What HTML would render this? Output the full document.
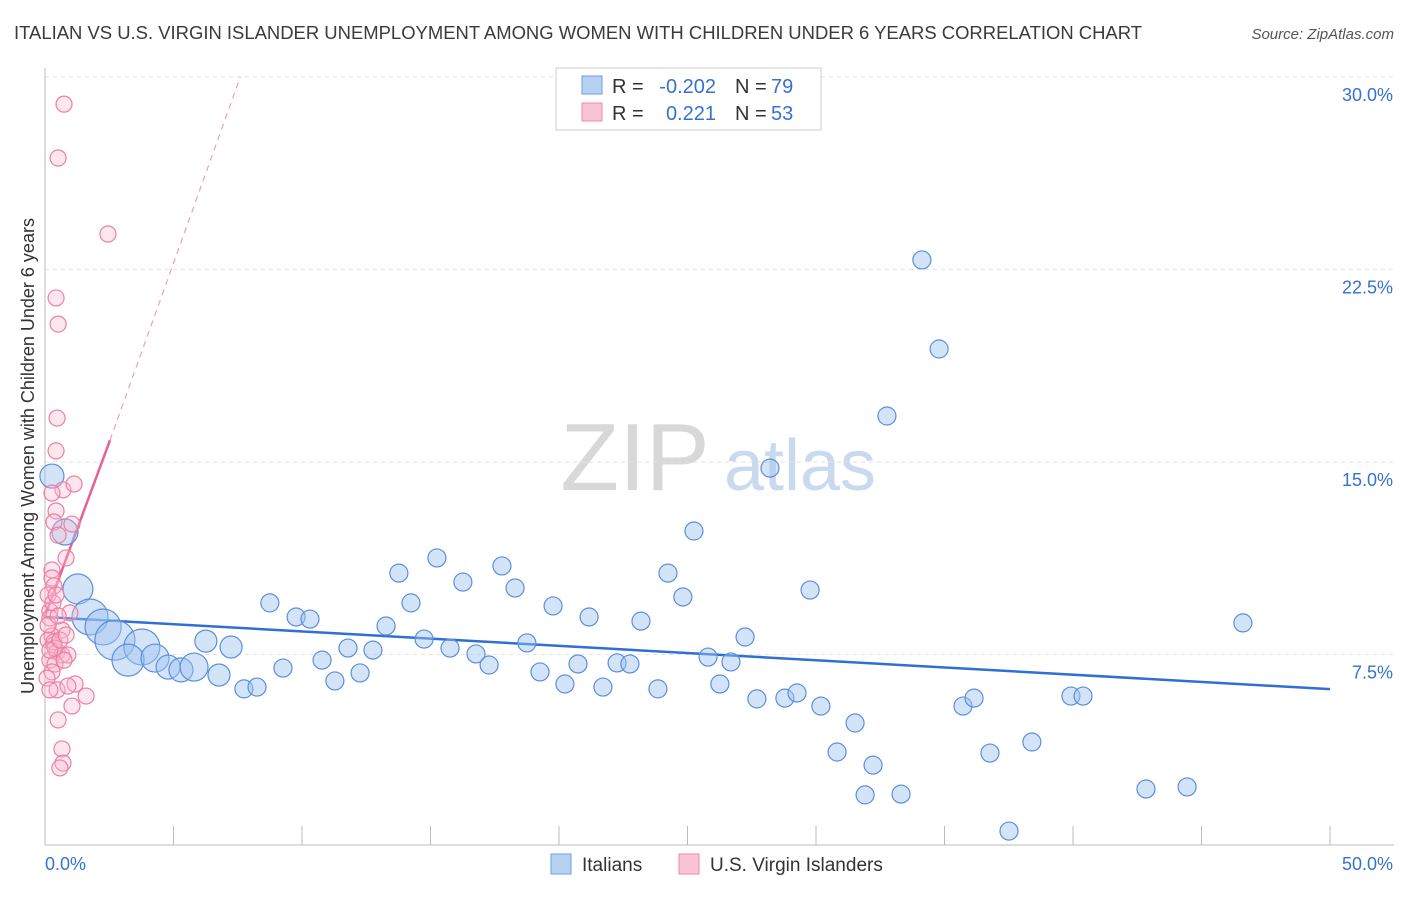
<!DOCTYPE html>
<html><head><meta charset="utf-8">
<style>
body{margin:0;background:#fff;font-family:"Liberation Sans",sans-serif;}
svg text{font-family:"Liberation Sans",sans-serif;}
</style></head>
<body>
<svg id="chart" width="1406" height="892" xmlns="http://www.w3.org/2000/svg">
<text x="14" y="39" font-size="18" fill="#3a3a3a" textLength="1128" lengthAdjust="spacingAndGlyphs">ITALIAN VS U.S. VIRGIN ISLANDER UNEMPLOYMENT AMONG WOMEN WITH CHILDREN UNDER 6 YEARS CORRELATION CHART</text>
<text x="1394" y="39" font-size="15" fill="#555" font-style="italic" text-anchor="end">Source: ZipAtlas.com</text>
<text transform="translate(34,456) rotate(-90)" font-size="18" fill="#333" text-anchor="middle">Unemployment Among Women with Children Under 6 years</text>
<g>
<text x="635" y="490" font-size="96" fill="#d8d8d8" font-family="Liberation Serif" text-anchor="middle">ZIP</text>
<text x="800" y="490" font-size="72" fill="#c9daf0" text-anchor="middle">atlas</text>
</g>
<g id="grid"></g><g id="axes"></g><g id="trend"></g><g id="pts"></g>
<g>
<rect x="556" y="68" width="265" height="62" fill="#fff" stroke="#ccc"/>
<rect x="582" y="76" width="20" height="18" fill="#b7d1f3" stroke="#6e9fde"/>
<text x="612" y="93" font-size="20" fill="#333">R =</text>
<text x="716" y="93" font-size="20" fill="#3572d0" text-anchor="end">-0.202</text>
<text x="735" y="93" font-size="20" fill="#333">N =</text>
<text x="771" y="93" font-size="20" fill="#3572d0">79</text>
<rect x="582" y="103" width="20" height="18" fill="#f9c4d3" stroke="#ec8aa8"/>
<text x="612" y="120" font-size="20" fill="#333">R =</text>
<text x="716" y="120" font-size="20" fill="#3572d0" text-anchor="end">0.221</text>
<text x="735" y="120" font-size="20" fill="#333">N =</text>
<text x="771" y="120" font-size="20" fill="#3572d0">53</text>
</g>
<g>
<rect x="551" y="854" width="20" height="20" fill="#b7d1f3" stroke="#6e9fde"/>
<text x="582" y="871" font-size="19" fill="#333">Italians</text>
<rect x="679" y="854" width="20" height="20" fill="#f9c4d3" stroke="#ec8aa8"/>
<text x="710" y="871" font-size="19" fill="#333">U.S. Virgin Islanders</text>
</g>
</svg>
<script>
const blueX=[0.27,0.78,1.28,1.75,2.26,2.72,3.77,3.23,4.28,4.79,5.29,5.80,6.26,6.77,7.24,7.74,8.25,8.75,9.26,9.77,10.31,10.78,11.28,11.79,12.26,12.76,13.27,13.77,14.24,14.75,15.25,15.76,16.26,16.77,17.28,17.78,18.29,18.75,19.26,19.77,20.23,20.74,21.17,21.71,22.26,22.76,23.19,23.85,24.24,24.82,25.25,25.80,26.26,26.69,27.24,27.70,28.21,28.79,29.26,29.77,30.19,30.82,31.52,31.91,32.22,32.76,33.31,34.12,34.79,35.72,36.15,36.77,37.51,38.40,39.92,40.39,42.84,44.44,46.61];
const blueY=[14.45,12.27,10.05,8.96,8.57,8.06,7.79,7.28,7.36,7.01,6.90,7.01,8.02,6.70,7.79,6.16,6.23,9.51,6.97,8.96,8.88,7.28,6.47,7.75,6.78,7.67,8.61,10.67,9.51,8.10,11.26,7.75,10.32,7.52,7.09,10.95,10.09,7.95,6.82,9.39,6.35,7.13,8.96,6.23,7.17,7.13,8.80,6.16,10.67,9.74,12.31,7.40,6.35,7.21,8.18,5.77,14.76,5.80,6.00,10.01,5.49,3.70,4.83,2.03,3.19,16.79,2.06,22.87,19.40,5.49,5.80,3.66,0.62,4.09,5.88,5.88,2.26,2.34,8.73];
const blueR=[12,13,15,18,18,20,18,16,14,12,12,14,11,11,11,9,9,9,9,9];
const pinkX=[0.74,0.51,2.45,0.43,0.51,0.47,0.43,0.70,1.13,0.27,0.43,0.35,1.05,0.51,0.82,0.27,0.27,0.35,0.12,0.97,0.19,0.66,0.19,0.27,0.12,0.35,0.47,0.66,0.89,0.19,0.39,0.27,0.08,0.47,1.17,0.89,1.60,0.19,1.05,0.51,0.66,0.70,0.58,0.35,0.39,0.19,0.58,0.82,0.12,0.31,0.43,0.74,0.51];
const pinkY=[28.94,26.84,23.88,21.39,20.37,16.71,15.43,13.91,14.14,13.79,13.09,12.66,12.58,12.15,11.26,10.79,10.48,10.17,9.82,9.12,9.19,8.45,8.92,8.22,8.06,7.87,7.60,7.48,7.48,7.28,7.13,6.82,6.58,6.12,6.35,6.27,5.88,6.12,5.49,4.95,3.82,3.27,3.08,7.99,7.75,7.67,8.06,8.26,8.65,9.51,9.82,7.28,9.00];
const yTicks=[7.5,15,22.5,30];
const yTickLabels=["7.5%","15.0%","22.5%","30.0%"];
const xTicks=[0,5,10,15,20,25,30,35,40,45,50];
const blueTrend=[[0,8.96],[50,6.15]];
const pinkTrend=[[0,9.0],[2.53,15.85]];
const pinkDash=[[2.53,15.85],[7.6,30]];
const NS="http://www.w3.org/2000/svg";
const X=v=>45+v*25.7, Y=v=>847-v*25.67;
function mk(t,a,p){const e=document.createElementNS(NS,t);for(const k in a)e.setAttribute(k,a[k]);p.appendChild(e);return e;}
const grid=document.getElementById('grid'),axes=document.getElementById('axes'),tr=document.getElementById('trend'),pts=document.getElementById('pts');
yTicks.forEach((v,i)=>{
 const l=mk('line',{x1:45,x2:1394,y1:Y(v),y2:Y(v),stroke:'#e2e2e2','stroke-dasharray':'4,4'},grid);
 
 
 const t=mk('text',{x:1393,y:Y(v)+24,'font-size':18,fill:'#3572d0','text-anchor':'end'},axes);
 t.textContent=yTickLabels[i];
 
 
});
const ax=mk('line',{x1:45,x2:1394,y1:845,y2:845,stroke:'#bbb'},axes);


const ay=mk('line',{x1:45,x2:45,y1:68,y2:845,stroke:'#bbb'},axes);


xTicks.forEach(v=>{const l=mk('line',{x1:X(v),x2:X(v),y1:826,y2:845,stroke:'#bbb'},axes);
 
 });
[["0.0%",45,'start'],["50.0%",1393,'end']].forEach(a=>{const t=mk('text',{x:a[1],y:870,'font-size':18,fill:'#3572d0','text-anchor':a[2]},axes);t.textContent=a[0];
 
 });
blueX.forEach((x,i)=>{const c=mk('circle',{cx:X(x),cy:Y(blueY[i]),r:blueR[i]||9,fill:'rgba(160,195,240,0.45)',stroke:'#5b8fdb','stroke-width':1.2},pts);
 
 });
pinkX.forEach((x,i)=>{const c=mk('circle',{cx:X(x),cy:Y(pinkY[i]),r:8,fill:'rgba(248,185,205,0.35)',stroke:'#ec7fa2','stroke-width':1.2},pts);
 
 });
const bl=mk('line',{x1:X(blueTrend[0][0]),y1:Y(blueTrend[0][1]),x2:X(blueTrend[1][0]),y2:Y(blueTrend[1][1]),stroke:'#2f6fd6','stroke-width':2.5},tr);


const pl=mk('line',{x1:X(pinkTrend[0][0]),y1:Y(pinkTrend[0][1]),x2:X(pinkTrend[1][0]),y2:Y(pinkTrend[1][1]),stroke:'#e8628e','stroke-width':2.5},tr);


const pd=mk('line',{x1:X(pinkDash[0][0]),y1:Y(pinkDash[0][1]),x2:X(pinkDash[1][0]),y2:Y(pinkDash[1][1]),stroke:'#eba0b8','stroke-width':1.2,'stroke-dasharray':'6,5'},tr);


</script>
</body></html>
